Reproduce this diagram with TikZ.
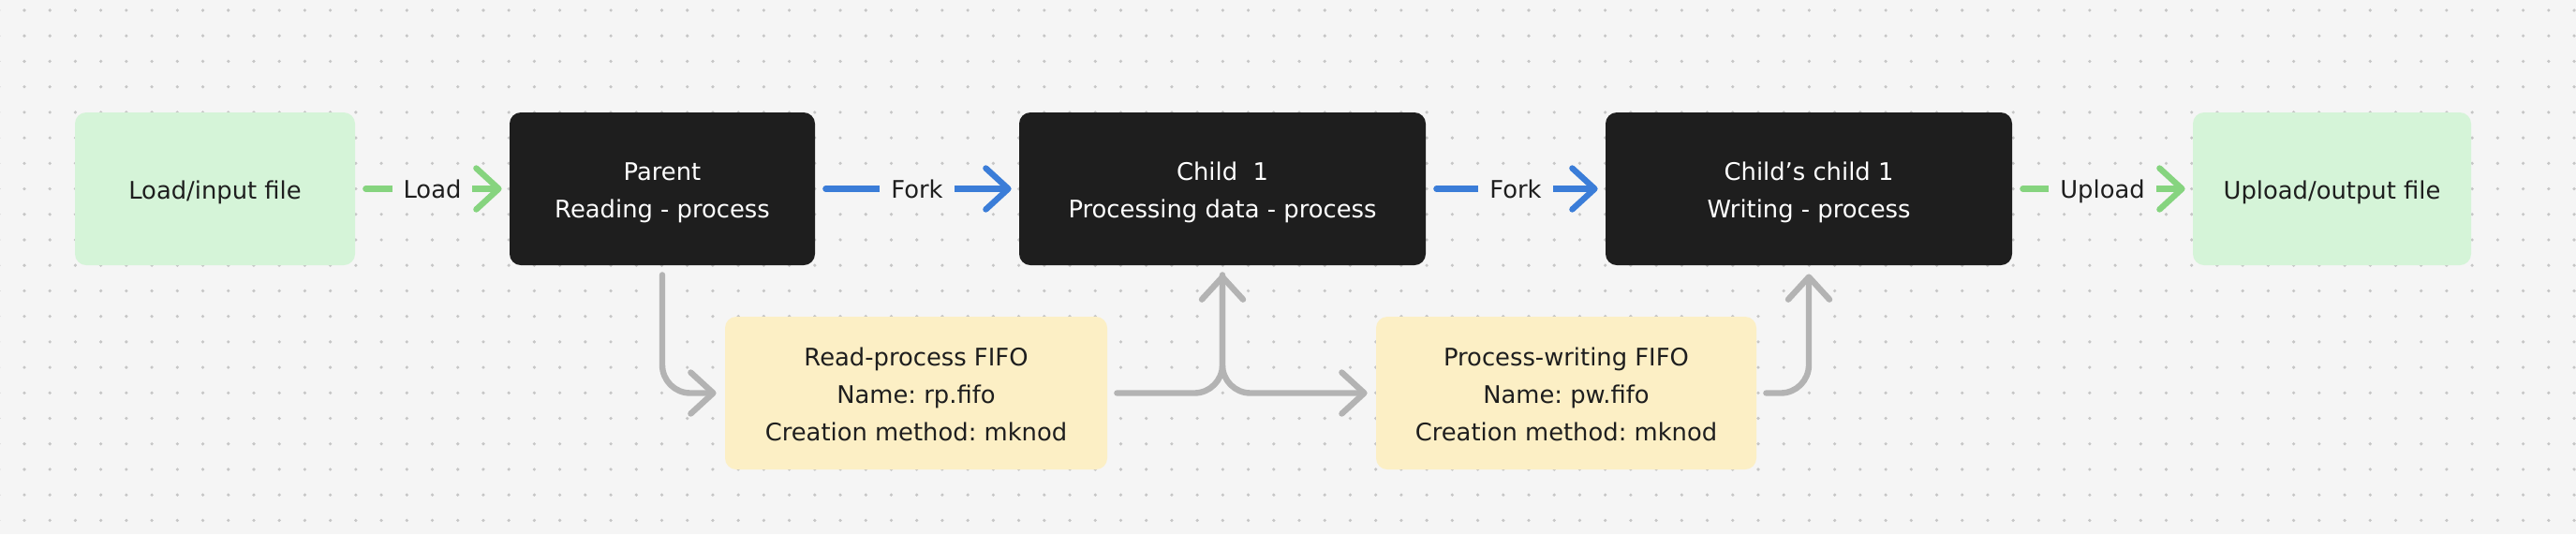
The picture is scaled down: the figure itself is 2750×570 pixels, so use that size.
\documentclass[tikz,border=0pt]{standalone}
\usepackage{fontspec}
\setmainfont{DejaVu Sans}
\usetikzlibrary{arrows.meta}
\frenchspacing
\definecolor{bg}{HTML}{F5F5F5}
\definecolor{dotc}{HTML}{C6C6C6}
\definecolor{boxdark}{HTML}{1E1E1E}
\definecolor{boxgreen}{HTML}{D5F4D8}
\definecolor{boxyellow}{HTML}{FCEFC5}
\definecolor{lgreen}{HTML}{86D47F}
\definecolor{lblue}{HTML}{3B7DD8}
\definecolor{lgray}{HTML}{B3B3B3}
\definecolor{txt}{HTML}{1E1E1E}
\newcommand{\btext}[1]{\raisebox{-1.3pt}[\height][\depth]{\begin{tabular}{@{}c@{}}#1\end{tabular}}}
\begin{document}
\begin{tikzpicture}[x=0.5pt,y=-0.5pt,
  base/.style={rounded corners=6pt, inner sep=0pt, align=center, minimum height=81.5pt, font=\fontsize{12.9}{20}\selectfont\frenchspacing},
  darkbox/.style={base, fill=boxdark, text=white},
  greenbox/.style={base, fill=boxgreen, text=txt},
  fifobox/.style={base, fill=boxyellow, text=txt},
  conn/.style={line width=3.2pt, line cap=round, line join=round, -{Straight Barb[length=12pt,width=22pt,round]}, shorten <=5.5pt, shorten >=4pt},
  greenconn/.style={conn, draw=lgreen},
  blueconn/.style={conn, draw=lblue},
  grayconn/.style={conn, draw=lgray, rounded corners=15pt, shorten <=5pt, shorten >=4.5pt},
  lbl/.style={fill=bg, text=txt, inner xsep=6pt, inner ysep=3pt, text height=12pt, text depth=1.8pt, font=\fontsize{12.9}{20}\selectfont}
]
\useasboundingbox (0,0) rectangle (2750,570);
\fill[bg] (0,0) rectangle (2750,570);
\foreach \i in {-1,...,100}{
  \foreach \j in {0,...,20}{
    \fill[dotc] (26+27.22*\i, 11+27.22*\j) circle (0.9pt);
  }
}
% nodes
\node[greenbox, minimum width=149.5pt] (load) at (229.5,201.5) {\btext{Load/input file}};
\node[darkbox, minimum width=163pt] (parent) at (707,201.5) {\btext{Parent\\Reading - process}};
\node[darkbox, minimum width=217pt] (child) at (1305,201.5) {\btext{Child~~1\\Processing data - process}};
\node[darkbox, minimum width=217pt] (cc) at (1931,201.5) {\btext{Child’s child 1\\Writing - process}};
\node[greenbox, minimum width=148.5pt] (upload) at (2489.5,201.5) {\btext{Upload/output file}};
\node[fifobox, minimum width=204pt] (rp) at (978,419.5) {\btext{Read-process FIFO\\Name: rp.fifo\\Creation method: mknod}};
\node[fifobox, minimum width=203pt] (pw) at (1672,419.5) {\btext{Process-writing FIFO\\Name: pw.fifo\\Creation method: mknod}};
% main connectors
\draw[greenconn] (load.east) -- node[lbl] {Load} (parent.west);
\draw[blueconn] (parent.east) -- node[lbl] {Fork} (child.west);
\draw[blueconn] (child.east) -- node[lbl] {Fork} (cc.west);
\draw[greenconn] (cc.east) -- node[lbl] {Upload} (upload.west);
% fifo connectors
\draw[grayconn] (parent.south) |- (rp.west);
\draw[grayconn] (child.south) |- (pw.west);
\draw[grayconn] (rp.east) -| (child.south);
\draw[grayconn] (pw.east) -| (cc.south);
\end{tikzpicture}
\end{document}
